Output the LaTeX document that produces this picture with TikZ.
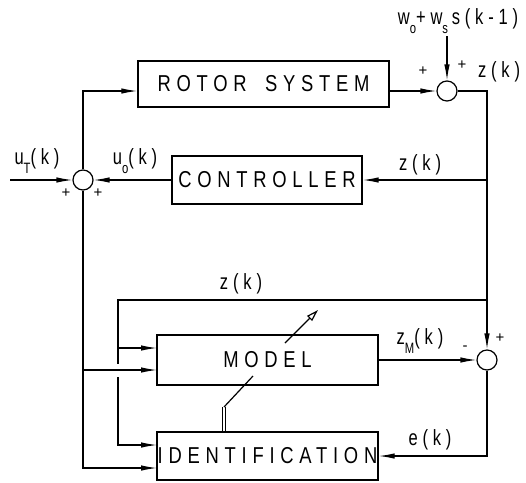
\documentclass[tikz,border=0pt]{standalone}
\usepackage{fontspec}
\setmainfont{Liberation Sans}
\newfontfamily\lett[FakeStretch=0.8,LetterSpace=25]{Liberation Sans}
\newfontfamily\lettb[FakeStretch=0.75,LetterSpace=22]{Liberation Sans}
\usetikzlibrary{arrows.meta,calc}
\newcommand\sbx[1]{\raisebox{-0.4em}{\fontsize{15}{15}\lettb #1}}
\begin{document}
\begin{tikzpicture}[x=1pt,y=-1pt,
  blk/.style={draw,line width=1.4pt,inner sep=0pt,font=\fontsize{23}{23}\lett},
  sumc/.style={draw,circle,line width=1.2pt,minimum size=20pt,inner sep=0pt},
  ln/.style={line width=1.2pt},
  arr/.style={ln,-{Latex[length=16pt,width=5.5pt]}},
  lab/.style={inner sep=0pt,font=\fontsize{22}{22}\lettb},
  sgn/.style={inner sep=0pt,font=\fontsize{15}{15}\selectfont}]
\useasboundingbox (0,0) rectangle (526,482);
% blocks
\node[blk,minimum width=251pt,minimum height=46pt] (rotor) at (263.5,84) {ROTOR\hspace{0.8em}SYSTEM};
\node[blk,minimum width=190pt,minimum height=48pt] (ctrl) at (267,180) {CONTROLLER};
\node[blk,minimum width=221pt,minimum height=50pt] (model) at (267.5,360) {MODEL};
\node[blk,minimum width=221pt,minimum height=48pt] (ident) at (267.5,456) {IDENTIFICATION};
% summing points
\node[sumc] (s1) at (447,91) {};
\node[sumc] (s2) at (83,180) {};
\node[sumc] (s3) at (487,360) {};
% coordinates
\coordinate (dtop) at (447,36);
\coordinate (uin) at (10,180);
\coordinate (mZ) at (157,348);
\coordinate (mU) at (157,370);
\coordinate (iZ) at (157,445);
\coordinate (iU) at (157,468);
\coordinate (zt) at (118,300);
\coordinate (gapA) at (118,364);
\coordinate (gapB) at (118,377);
\coordinate (dbl) at (224,407);
\coordinate (p1) at (253,376);
\coordinate (p2) at (285,343);
\coordinate (p3) at (318,310);
% connectors
\draw[arr] (s2.north) |- (rotor.west |- s1.center);
\draw[arr] (rotor.east |- s1.center) -- (s1.west);
\draw[arr] (dtop) -- (s1.north);
\draw[arr] (s1.east) -| (s3.north);
\draw[arr] (s3 |- ctrl.east) -- (ctrl.east);
\draw[arr] (ctrl.west) -- (s2.east);
\draw[arr] (uin) -- (s2.west);
\draw[arr] (s2.south) |- (iU);
\draw[arr] (s2.south |- mU) -- (mU);
\draw[ln] (s3 |- zt) -- (zt) -- (gapA);
\draw[arr] (gapB) |- (iZ);
\draw[arr] (zt |- mZ) -- (mZ);
\draw[arr] (model.east) -- (s3.west);
\draw[arr] (s3.south) |- (ident.east);
\draw[double,double distance=2.2pt,line width=0.9pt] (ident.north -| dbl) -- (dbl);
\draw[ln] (dbl) -- (p1);
\draw[ln,-{Triangle[open,length=12pt,width=7pt]}] (p2) -- (p3);
% labels
\node[lab] (lw) at (458,21) {w\sbx{o}+w\sbx{s}\,s(k-1)};
\node[sgn] (pl1) at (423,71) {+};
\node[sgn] (pl2) at (462,65) {+};
\node[lab] (lz1) at (499,72) {z(k)};
\node[lab] (luT) at (37,161) {u\sbx{T}(k)};
\node[lab] (luo) at (135,161) {u\sbx{o}(k)};
\node[sgn] (pl3) at (66,193) {+};
\node[sgn] (pl4) at (98,193) {+};
\node[lab] (lz2) at (420,165) {z(k)};
\node[lab] (lz3) at (241,284) {z(k)};
\node[lab] (lzM) at (420,341) {z\sbx{M}(k)};
\node[sgn] (mi) at (465,348) {-};
\node[sgn] (pl5) at (500,338) {+};
\node[lab] (le) at (430,440) {e(k)};
\end{tikzpicture}
\end{document}
